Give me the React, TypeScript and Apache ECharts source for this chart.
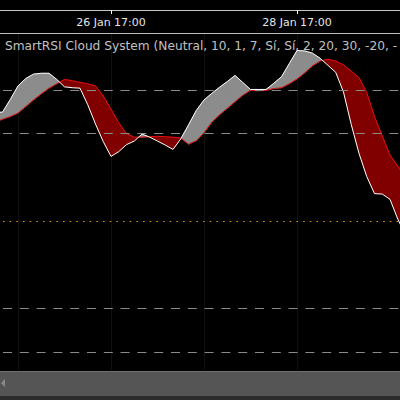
import React, { useEffect, useRef } from 'react';
import * as echarts from 'echarts';

// hours since 25 Jan 17:00 (2-hour steps)
const hours = [-6, -4, -2, 0, 2, 4, 6, 8, 10, 12, 14, 16, 18, 20, 22, 24, 26, 28, 30, 32, 34, 36, 38, 40, 42, 44, 46, 48, 50, 52, 54, 56, 58, 60, 62, 64, 66, 68, 70, 72, 74, 76, 78, 80, 82, 84, 86, 88, 90, 92, 94, 96, 98, 100];
const smartRsi = [24.9, 24.9, 27.8, 30.9, 32.6, 33.6, 33.8, 33.8, 32.4, 30.7, 30.5, 30.4, 26.6, 22.2, 18.2, 14.8, 15.9, 17.5, 18.3, 19.9, 19.2, 18.3, 17.4, 16.4, 18.8, 22.0, 25.3, 27.7, 29.2, 30.6, 31.9, 33.3, 31.7, 30.1, 30.1, 30.1, 31.5, 33.0, 36.0, 39.0, 38.9, 38.4, 37.2, 35.6, 34.0, 29.5, 22.1, 15.5, 10.2, 6.3, 6.2, 5.0, 0.5, -3.2];
const signalLine = [22.6, 23.3, 23.9, 24.7, 26.2, 27.7, 29.1, 30.4, 31.4, 32.4, 32.1, 31.7, 31.4, 30.9, 28.6, 25.6, 22.5, 20.0, 19.2, 19.2, 19.3, 19.4, 19.3, 19.2, 19.0, 17.6, 18.4, 20.2, 22.6, 24.3, 25.8, 27.3, 28.8, 29.9, 29.8, 29.9, 30.3, 30.5, 31.4, 32.5, 33.9, 35.5, 36.6, 37.0, 36.6, 35.7, 34.3, 32.8, 29.4, 23.9, 19.5, 15.1, 12.6, 10.0];
const dashedLevels = [30, 20, -20, -30];
const midLevel = 0;
const dayGridHours = [0, 24, 48, 72, 96];
const xTickHours = [24, 72];
const xTickLabels = ['26 Jan 17:00', '28 Jan 17:00'];
const titleText = 'SmartRSI Cloud System (Neutral, 10, 1, 7, Sí, Sí, 2, 20, 30, -20, -';

const GRAY = '#8c8c8c';
const RED = '#800000';

// runs of the cloud: contiguous stretches where one line stays above the other
function buildRuns() {
  const xs: number[] = [];
  const as: number[] = [];
  const bs: number[] = [];
  const n = hours.length;
  for (let i = 0; i < n; i++) {
    xs.push(hours[i]);
    as.push(smartRsi[i]);
    bs.push(signalLine[i]);
    if (i < n - 1) {
      const d0 = smartRsi[i] - signalLine[i];
      const d1 = smartRsi[i + 1] - signalLine[i + 1];
      if (d0 * d1 < 0) {
        const t = d0 / (d0 - d1);
        const x = hours[i] + t * (hours[i + 1] - hours[i]);
        const v = smartRsi[i] + t * (smartRsi[i + 1] - smartRsi[i]);
        xs.push(x);
        as.push(v);
        bs.push(v);
      }
    }
  }
  const runs: { up: boolean; idx: number[] }[] = [];
  let cur: { up: boolean; idx: number[] } | null = null;
  for (let i = 0; i < xs.length - 1; i++) {
    const up = (as[i] - bs[i]) + (as[i + 1] - bs[i + 1]) > 0;
    if (!cur || cur.up !== up) {
      cur = { up, idx: [i] };
      runs.push(cur);
    }
    cur.idx.push(i + 1);
  }
  return { xs, as, bs, runs };
}

export default function App() {
  const ref = useRef<HTMLDivElement>(null);
  useEffect(() => {
    if (!ref.current) return;
    const chart = echarts.init(ref.current, undefined, { renderer: 'svg' });
    const { xs, as, bs, runs } = buildRuns();
    const runData = runs.map((r, k) => [xs[r.idx[0]], k]);
    chart.setOption({
      animation: false,
      backgroundColor: '#000000',
      grid: { left: 0, right: 0, top: 33, bottom: 30 },
      xAxis: [
        {
          type: 'value',
          position: 'top',
          min: -4.645,
          max: 98.58,
          axisLine: { show: true, onZero: false, lineStyle: { color: '#bdbdbd', width: 1 } },
          axisTick: { show: false, customValues: dayGridHours },
          axisLabel: { show: false, customValues: dayGridHours },
          splitLine: { show: true, showMinLine: true, showMaxLine: false, lineStyle: { color: '#111111', width: 1 } },
        },
        {
          type: 'value',
          position: 'top',
          offset: 23,
          min: -4.645,
          max: 98.58,
          axisLine: { show: true, onZero: false, lineStyle: { color: '#c8c8c8', width: 1 } },
          axisTick: { show: true, inside: true, length: 4, customValues: xTickHours, lineStyle: { color: '#ffffff' } },
          axisLabel: {
            show: true,
            inside: true,
            margin: 7,
            color: '#e6e6e6',
            fontSize: 11,
            fontFamily: 'DejaVu Sans',
            customValues: xTickHours,
            formatter: (v: number) => {
              for (let i = 0; i < xTickHours.length; i++) {
                if (Math.abs(v - xTickHours[i]) < 0.01) return xTickLabels[i];
              }
              return '';
            },
          },
          splitLine: { show: false },
        },
      ],
      yAxis: {
        type: 'value',
        min: -34,
        max: 43,
        show: false,
        splitLine: { show: false },
      },
      series: [
        {
          type: 'custom',
          silent: true,
          data: runData,
          encode: { x: 0 },
          renderItem: (params: any, api: any) => {
            const r = runs[params.dataIndex];
            const top = r.idx.map((i) => api.coord([xs[i], as[i]]));
            const bottom = r.idx.slice().reverse().map((i) => api.coord([xs[i], bs[i]]));
            const c = r.up ? GRAY : RED;
            return {
              type: 'polygon',
              shape: { points: top.concat(bottom) },
              style: { fill: c, stroke: c, lineWidth: 0.5 },
            };
          },
        },
        {
          type: 'line',
          data: hours.map((h, i) => [h, signalLine[i]]),
          symbol: 'none',
          lineStyle: { color: '#e81010', width: 1 },
          silent: true,
          z: 3,
        },
        {
          type: 'line',
          data: hours.map((h, i) => [h, smartRsi[i]]),
          symbol: 'none',
          lineStyle: { color: '#ffffff', width: 1 },
          silent: true,
          z: 4,
          markLine: {
            silent: true,
            symbol: ['none', 'none'],
            label: { show: false },
            data: [
              ...dashedLevels.map((v) => ({
                yAxis: v,
                lineStyle: { type: [9, 7.8], dashOffset: -3.3, color: '#8a8a8a', width: 1 },
              })),
              { yAxis: midLevel, lineStyle: { type: [1.5, 5.17], dashOffset: -3, color: '#e89a1c', width: 1.2 } },
            ],
          },
        },
      ],
      graphic: [
        {
          type: 'text',
          left: 5,
          top: 40,
          style: { text: titleText, fill: '#c0c0c0', font: '12.2px "DejaVu Sans"' },
          z: 100,
        },
        { type: 'rect', shape: { x: 0, y: 371, width: 400, height: 25 }, style: { fill: '#555555' }, z: 100 },
        { type: 'line', shape: { x1: 0, y1: 371.5, x2: 400, y2: 371.5 }, style: { stroke: '#6e6e6e', lineWidth: 1 }, z: 101 },
        { type: 'rect', shape: { x: 0, y: 396, width: 400, height: 4 }, style: { fill: '#2c2c2c' }, z: 100 },
        { type: 'polygon', shape: { points: [[1, 383], [5, 379], [5, 387]] }, style: { fill: '#8a8a8a' }, z: 101 },
      ],
    });
    return () => chart.dispose();
  }, []);
  return <div ref={ref} style={{ position: 'fixed', left: 0, top: 0, width: 400, height: 400 }} />;
}
